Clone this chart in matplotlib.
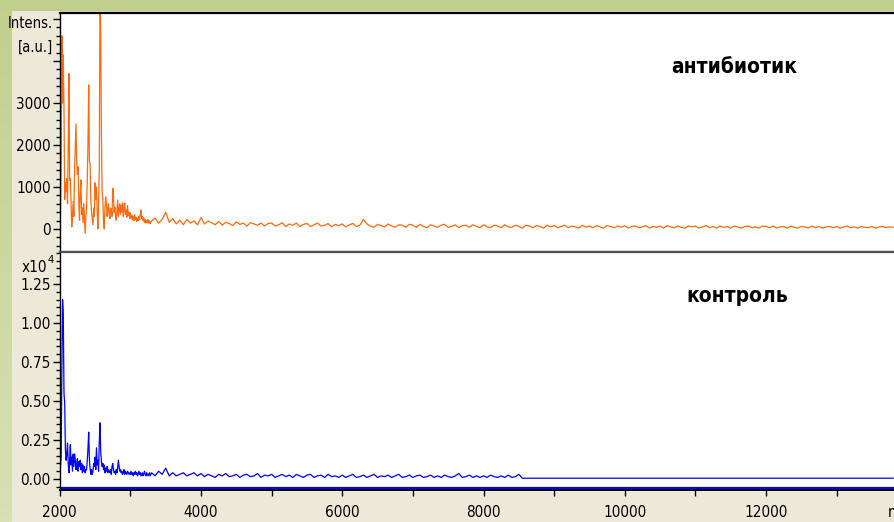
import numpy as np
import matplotlib.pyplot as plt
from matplotlib.patches import Rectangle
from matplotlib.ticker import MultipleLocator
from matplotlib.colors import LinearSegmentedColormap

plt.rcParams['font.family'] = ['DejaVu Sans']
plt.rcParams['font.stretch'] = 'condensed'

# m/z grids: fine near the peaks, coarser along the tail
mz_peaks = np.arange(2000, 3300, 10)
mz_tail = np.arange(3300, 13801, 50)

# antibiotic sample, intensity in a.u.
antibiotic_peaks = [
    380, 420, 1500, 4600, 3000, 4150, 2900, 700, 1100, 900,
    1200, 600, 2000, 3700, 1150, 1200, 600, 50, 300, 650,
    300, 1400, 1950, 2500, 1600, 1300, 1480, 600, 210, 900,
    1170, 350, 500, 150, 600, 250, -100, 300, 520, 1200,
    2100, 3430, 1600, 1560, 700, 400, 250, 100, 500, 300,
    1100, 700, 1000, 400, 0, 600, 1400, 5800, 4700, 2200,
    900, 690, 200, 0, 500, 760, 600, 300, 420, 600,
    350, 250, 500, 450, 300, 970, 850, 400, 520, 300,
    210, 450, 690, 300, 450, 600, 350, 570, 400, 620,
    300, 500, 620, 350, 450, 280, 560, 330, 400, 250,
    380, 260, 330, 220, 300, 200, 340, 230, 280, 180,
    250, 200, 300, 220, 350, 450, 250, 300, 200, 260,
    160, 220, 140, 200, 150, 230, 140, 190, 130, 170,
]
antibiotic_tail = [
    190, 260, 140, 230, 400, 160, 250, 120, 210, 100, 230, 140, 190, 100,
    270, 120, 190, 150, 100, 180, 90, 160, 130, 80, 170, 110, 140, 70, 150, 120, 90, 140, 70, 130,
    140, 70, 100, 150, 60, 120, 90, 140, 60, 110, 130, 60, 100, 140, 70, 90, 130, 50, 110, 80,
    120, 50, 100, 130, 60, 90, 230, 120, 70, 40, 110, 80, 50, 120, 70, 40, 100, 90, 40, 110,
    90, 40, 110, 60, 30, 100, 70, 40, 90, 110, 40, 60, 100, 30, 80, 90, 40, 100, 60, 30,
    100, 50, 30, 90, 70, 30, 100, 50, 40, 90, 60, 20, 90, 70, 30, 80, 60, 20, 90, 50,
    80, 30, 60, 90, 30, 70, 50, 20, 90, 40, 70, 30, 80, 50, 20, 80, 60, 30, 70, 40,
    80, 20, 60, 70, 30, 50, 80, 20, 60, 40, 70, 20, 80, 50, 30, 70, 40, 20, 70, 50,
    70, 20, 50, 80, 30, 60, 20, 70, 40, 60, 20, 70, 50, 20, 60, 70, 30, 50, 20, 70,
    60, 30, 70, 20, 50, 60, 20, 70, 40, 20, 60, 50, 20, 70, 30, 60, 20, 50, 60, 30,
    60, 20, 50, 70, 30, 50, 20, 60, 40, 30, 60, 20, 50, 60, 30, 50, 40,
]

# control sample, intensity in units of 1e4 a.u.
control_peaks = [
    0.06, 0.08, 0.14, 0.70, 1.15, 1.05, 0.55, 0.49, 0.19, 0.12,
    0.16, 0.23, 0.10, 0.04, 0.12, 0.22, 0.09, 0.14, 0.05, 0.16,
    0.08, 0.16, 0.12, 0.06, 0.10, 0.13, 0.05, 0.11, 0.08, 0.12,
    0.06, 0.10, 0.04, 0.09, 0.05, 0.08, 0.04, 0.06, 0.06, 0.12,
    0.20, 0.30, 0.12, 0.07, 0.03, 0.06, 0.03, 0.05, 0.10, 0.08,
    0.14, 0.06, 0.20, 0.09, 0.12, 0.05, 0.24, 0.36, 0.18, 0.11,
    0.08, 0.10, 0.06, 0.09, 0.04, 0.07, 0.05, 0.08, 0.04, 0.06,
    0.05, 0.04, 0.06, 0.03, 0.08, 0.10, 0.06, 0.04, 0.05, 0.03,
    0.06, 0.04, 0.07, 0.12, 0.08, 0.05, 0.06, 0.04, 0.05, 0.03,
    0.04, 0.06, 0.03, 0.05, 0.04, 0.03, 0.05, 0.04, 0.03, 0.04,
    0.03, 0.05, 0.03, 0.04, 0.02, 0.04, 0.03, 0.05, 0.03, 0.04,
    0.02, 0.03, 0.05, 0.03, 0.04, 0.02, 0.03, 0.04, 0.02, 0.03,
    0.05, 0.03, 0.02, 0.04, 0.03, 0.02, 0.03, 0.04, 0.02, 0.03,
]
control_tail = [
    0.04, 0.02, 0.05, 0.03, 0.07, 0.02, 0.04, 0.02, 0.03, 0.04, 0.02, 0.03, 0.04, 0.02,
    0.035, 0.015, 0.03, 0.02, 0.01, 0.03, 0.02, 0.035, 0.015, 0.02,
    0.03, 0.01, 0.025, 0.03, 0.015, 0.02, 0.035, 0.01, 0.025, 0.02,
    0.03, 0.01, 0.02, 0.03, 0.015, 0.025, 0.01, 0.03, 0.02, 0.01,
    0.025, 0.03, 0.01, 0.02, 0.025, 0.01, 0.03, 0.015, 0.02, 0.01,
    0.025, 0.01, 0.02, 0.03, 0.01, 0.015, 0.025, 0.01, 0.02, 0.03,
    0.01, 0.02, 0.015, 0.025, 0.01, 0.02, 0.03, 0.01, 0.015, 0.025,
    0.01, 0.02, 0.025, 0.01, 0.015, 0.025, 0.01, 0.02, 0.01, 0.025,
    0.015, 0.01, 0.02, 0.035, 0.01, 0.015, 0.025, 0.01, 0.02, 0.01,
    0.02, 0.01, 0.025, 0.015, 0.01, 0.02, 0.01, 0.025, 0.01, 0.015,
    0.03,
] + [0.005] * 106

mz = np.concatenate([mz_peaks, mz_tail])
antibiotic = np.array(antibiotic_peaks + antibiotic_tail, dtype=float)
control = np.array(control_peaks + control_tail, dtype=float)

W, H = 894, 522
GREEN = '#c1cf8d'
BEIGE = '#ece9d8'
ORANGE = '#ff6a10'
BLUE = '#0000ff'

fig = plt.figure(figsize=(W / 100, H / 100), dpi=100)
fig.patch.set_facecolor(BEIGE)

# green frame: flat band on top, soft gradient down the left edge
fig.patches.append(Rectangle((0, 1 - 11 / H), 1, 11 / H, transform=fig.transFigure,
                             facecolor=GREEN, edgecolor='none', zorder=0))
side = fig.add_axes([0, 0, 12 / W, 1 - 11 / H])
side.imshow(np.linspace(0, 1, 100).reshape(-1, 1), aspect='auto',
            cmap=LinearSegmentedColormap.from_list('side', ['#c3d08f', '#d8e0b4']))
side.axis('off')

x0 = 59.75
xmax = 2000 + (W - x0) / 141.25 * 2000
ax1 = fig.add_axes([x0 / W, 1 - 252 / H, 1 - x0 / W, (252 - 13) / H])
ax2 = fig.add_axes([x0 / W, 1 - 490 / H, 1 - x0 / W, (490 - 252) / H])

ax1.plot(mz, antibiotic, color=ORANGE, lw=0.9)
ax1.set_ylim(-548, 5143)
ax1.yaxis.set_major_locator(MultipleLocator(1000))
ax1.yaxis.set_minor_locator(MultipleLocator(200))
# upper ticks carry the axis title instead of numbers
ax1.yaxis.set_major_formatter(lambda v, p: f'{v:.0f}' if v <= 3000 else '')
ax1.set_xticks([])

ax2.plot(mz, control, color=BLUE, lw=0.9)
ax2.axhline(-0.058, color=BLUE, lw=1.6)
ax2.set_ylim(-0.0705, 1.455)
ax2.yaxis.set_major_locator(MultipleLocator(0.25))
ax2.yaxis.set_minor_locator(MultipleLocator(0.05))
ax2.yaxis.set_major_formatter(lambda v, p: f'{v:.2f}')
ax2.xaxis.set_major_locator(MultipleLocator(2000))
ax2.xaxis.set_minor_locator(MultipleLocator(1000))

for ax in (ax1, ax2):
    ax.set_xlim(2000, xmax)
    ax.set_facecolor('white')
    ax.spines['right'].set_visible(False)
    ax.spines['left'].set_linewidth(1.0)
    ax.tick_params(axis='y', which='major', direction='out', length=5, width=1,
                   pad=1.5, labelsize=11)
    ax.tick_params(axis='y', which='minor', direction='out', length=3, width=1)
    ax.tick_params(axis='x', which='both', direction='out', length=4, width=1,
                   pad=7, labelsize=11)

ax1.spines['top'].set_linewidth(1.6)
ax1.spines['bottom'].set_color('#505050')
ax1.spines['bottom'].set_linewidth(1.6)
ax2.spines['top'].set_color('#505050')
ax2.spines['top'].set_linewidth(1.6)
ax2.spines['bottom'].set_linewidth(1.4)

ax1.text(0.809, 0.774, 'антибиотик', transform=ax1.transAxes, fontsize=15,
         fontweight='bold', ha='center', va='center')
ax2.text(0.812, 0.815, 'контроль', transform=ax2.transAxes, fontsize=15,
         fontweight='bold', ha='center', va='center')

fig.text(53 / W, 1 - 24 / H, 'Intens.', ha='right', va='center', fontsize=10.5)
fig.text(53 / W, 1 - 47 / H, '[a.u.]', ha='right', va='center', fontsize=10.5)
fig.text(47 / W, 1 - 268 / H, 'x10', ha='right', va='center', fontsize=11)
fig.text(47.5 / W, 1 - 260 / H, '4', ha='left', va='center', fontsize=8)
fig.text(888 / W, 1 - 512 / H, 'm/z', ha='left', va='center', fontsize=11)

fig.savefig('out.png', dpi=100, facecolor=fig.get_facecolor())
